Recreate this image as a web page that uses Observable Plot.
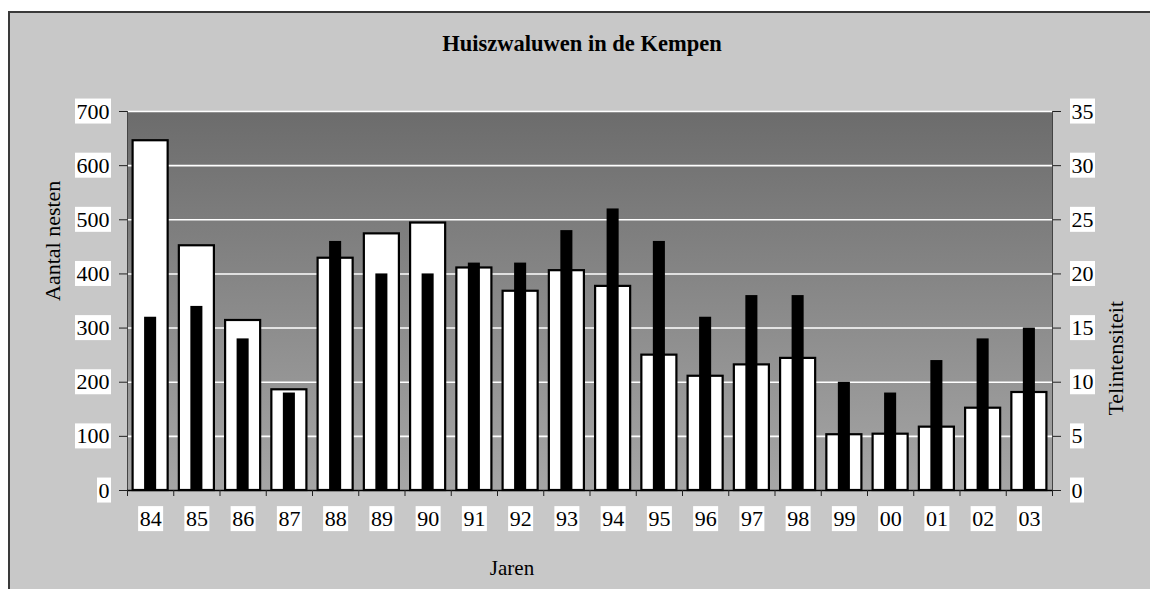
<!DOCTYPE html>
<html>
<head>
<meta charset="utf-8">
<script src="https://cdn.jsdelivr.net/npm/d3@7"></script>
<script src="https://cdn.jsdelivr.net/npm/@observablehq/plot@0.6"></script>
<style>
  html, body { margin: 0; padding: 0; background: #ffffff; }
  #wrap { position: relative; width: 1150px; height: 589px; overflow: hidden; background: #ffffff; }
  #panel { position: absolute; left: 8px; top: 11px; width: 1200px; height: 640px;
           background: #c8c8c8; border-left: 2px solid #3a3a3a; border-top: 2px solid #3a3a3a; }
  #title { position: absolute; left: 0; top: 33px; width: 1164px; text-align: center;
           font: bold 22.5px "Liberation Serif", serif; line-height: 1; color: #000; }
  #chart { position: absolute; left: 0; top: 0; }
</style>
</head>
<body>
<div id="wrap">
  <div id="panel"></div>
  <div id="title">Huiszwaluwen in de Kempen</div>
  <div id="chart"></div>
</div>
<script>
// ---- data ----
const years = ["84","85","86","87","88","89","90","91","92","93","94","95","96","97","98","99","00","01","02","03"];
const nests = [646, 452, 314, 186, 429, 474, 494, 411, 368, 406, 377, 250, 211, 232, 244, 103, 104, 117, 152, 181];
const intensity = [16, 17, 14, 9, 23, 20, 20, 21, 21, 24, 26, 23, 16, 18, 18, 10, 9, 12, 14, 15];
const leftTicks = [0, 100, 200, 300, 400, 500, 600, 700];
const rightTicks = [0, 5, 10, 15, 20, 25, 30, 35];
const ratio = 700 / 35; // right axis -> left axis units

const data = years.map((y, i) => ({i, year: y, nests: nests[i], tel: intensity[i]}));

const font = "'Liberation Serif', 'Times New Roman', serif";

const chart = Plot.plot({
  width: 1150,
  height: 589,
  marginLeft: 127,
  marginRight: 98,
  marginTop: 111,
  marginBottom: 99,
  style: {background: "transparent", fontFamily: font, fontSize: "22px", color: "black", overflow: "visible"},
  x: {type: "linear", domain: [0, years.length], axis: null},
  y: {domain: [0, 700], axis: null},
  marks: [
    Plot.frame({fill: "url(#plotBg)", stroke: null}),
    Plot.gridY(leftTicks.slice(1), {stroke: "white", strokeOpacity: 1, strokeWidth: 1.6}),
    Plot.ruleX([0, years.length], {stroke: "#444", strokeWidth: 1}),
    Plot.rectY(data, {x1: "i", x2: d => d.i + 1, y: "nests", fill: "white", stroke: "black", strokeWidth: 2.2, insetLeft: 5.6, insetRight: 5.6}),
    Plot.rectY(data, {x1: "i", x2: d => d.i + 1, y: d => d.tel * ratio, fill: "black", insetLeft: 17.1, insetRight: 17.1}),
    Plot.ruleY([0], {stroke: "black", strokeWidth: 1.5}),
    Plot.axisY(leftTicks, {anchor: "left", tickSize: 8, tickPadding: 10, fontSize: 22, label: null, stroke: "#222"}),
    Plot.axisY(rightTicks.map(v => v * ratio), {anchor: "right", tickSize: 8, tickPadding: 11, fontSize: 22, tickFormat: v => String(v / ratio), label: null, stroke: "#222"}),
    Plot.axisX(d3.range(years.length + 1), {anchor: "bottom", tickSize: 6, tickFormat: () => "", label: null, stroke: "#222"}),
    Plot.axisX(d3.range(years.length).map(i => i + 0.5), {anchor: "bottom", tickSize: 0, tickPadding: 20, fontSize: 22, tickFormat: v => years[Math.floor(v)], label: null}),
    Plot.text(["Aantal nesten"], {frameAnchor: "left", dx: -75, rotate: -90, fontSize: 22, fill: "black"}),
    Plot.text(["Telintensiteit"], {frameAnchor: "right", dx: 63, rotate: -90, fontSize: 22, fill: "black"}),
    Plot.text(["Jaren"], {frameAnchor: "bottom", dx: -78, dy: 84, fontSize: 21, fill: "black"})
  ]
});

document.getElementById("chart").appendChild(chart);

// gradient for plot-area background
const ns = "http://www.w3.org/2000/svg";
const defs = document.createElementNS(ns, "defs");
const grad = document.createElementNS(ns, "linearGradient");
grad.setAttribute("id", "plotBg");
grad.setAttribute("x1", "0"); grad.setAttribute("y1", "0");
grad.setAttribute("x2", "0"); grad.setAttribute("y2", "1");
[["0%", "#6c6c6c"], ["100%", "#a6a6a6"]].forEach(([o, c]) => {
  const s = document.createElementNS(ns, "stop");
  s.setAttribute("offset", o); s.setAttribute("stop-color", c);
  grad.appendChild(s);
});
defs.appendChild(grad);
chart.insertBefore(defs, chart.firstChild);

// white boxes behind tick labels
chart.querySelectorAll('g[aria-label="y-axis tick label"] text, g[aria-label="x-axis tick label"] text').forEach(t => {
  if (!t.textContent) return;
  const b = t.getBBox();
  if (!b.width) return;
  const r = document.createElementNS(ns, "rect");
  r.setAttribute("x", b.x - 1.5);
  r.setAttribute("y", b.y);
  r.setAttribute("width", b.width + 3);
  r.setAttribute("height", b.height);
  r.setAttribute("fill", "white");
  r.setAttribute("stroke", "none");
  const tr = t.getAttribute("transform");
  if (tr) r.setAttribute("transform", tr);
  t.parentNode.insertBefore(r, t);
});
</script>
</body>
</html>
